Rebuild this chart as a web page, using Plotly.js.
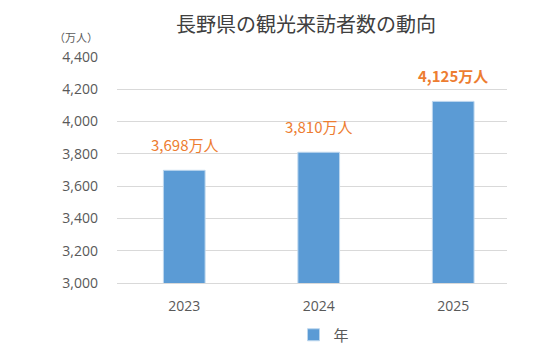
<!DOCTYPE html>
<html>
<head>
<meta charset="utf-8">
<script src="https://cdn.plot.ly/plotly-3.0.1.min.js"></script>
<style>html,body{margin:0;padding:0;background:#fff;}#chart{width:536px;height:358px;}</style>
</head>
<body>
<div id="chart"></div>
<script>
const years = ['2023', '2024', '2025'];
const visitors = [3698, 3810, 4125];
const labels = ['3,698万人', '3,810万人', '4,125万人'];
const labelBold = [false, false, true];
const seriesName = '年';
const yTicks = [3000, 3200, 3400, 3600, 3800, 4000, 4200, 4400];

const font = '"Noto Sans CJK JP", "Noto Sans", sans-serif';

const trace = {
  type: 'bar',
  x: years,
  y: visitors,
  name: seriesName,
  marker: {color: '#5B9BD5', line: {color: '#BDD7EE', width: 1}},
  width: 0.31,
  hoverinfo: 'none'
};

const annotations = years.map((yr, i) => ({
  x: i, y: visitors[i], xref: 'x', yref: 'y',
  text: labelBold[i] ? '<b>' + labels[i] + '</b>' : labels[i],
  showarrow: false, yanchor: 'middle', xanchor: 'center', yshift: 26,
  font: {family: font, size: 15, color: '#ED7D31'}
}));
annotations.push({
  xref: 'paper', yref: 'paper', x: (76 - 117) / 390, y: (283 - 37) / 226,
  text: '（万人）', showarrow: false, xanchor: 'center', yanchor: 'middle',
  font: {family: font, size: 11, color: '#595959'}
});

const layout = {
  width: 536, height: 358,
  margin: {l: 117, r: 29, t: 57, b: 75, autoexpand: false},
  paper_bgcolor: '#fff', plot_bgcolor: '#fff',
  title: {
    text: '長野県の観光来訪者数の動向',
    x: 306 / 536, xref: 'container', xanchor: 'center',
    y: 1 - 25 / 358, yref: 'container', yanchor: 'middle',
    font: {family: font, size: 20, color: '#404040'}
  },
  xaxis: {
    type: 'category', range: [-0.5, 2.4],
    showgrid: false, showline: true, linecolor: '#D9D9D9', linewidth: 1,
    ticks: '', ticklabelstandoff: 10,
    tickfont: {family: '"Open Sans", sans-serif', size: 14, color: '#595959'},
    fixedrange: true
  },
  yaxis: {
    range: [3000, 4400], tickvals: yTicks,
    ticktext: yTicks.map(v => v.toLocaleString('en-US')),
    showgrid: true, gridcolor: '#D9D9D9', gridwidth: 1,
    zeroline: false, showline: false, ticks: '', ticklabelstandoff: 18,
    tickfont: {family: '"Open Sans", sans-serif', size: 14, color: '#595959'},
    fixedrange: true
  },
  showlegend: true,
  legend: {
    orientation: 'h', x: (324 - 117) / 390, xanchor: 'center',
    y: (283 - 335) / 226, yanchor: 'middle',
    font: {family: font, size: 15, color: '#595959'},
    itemwidth: 30
  },
  annotations: annotations,
  bargap: 0.69
};

Plotly.newPlot('chart', [trace], layout, {displayModeBar: false, staticPlot: true});
</script>
</body>
</html>
